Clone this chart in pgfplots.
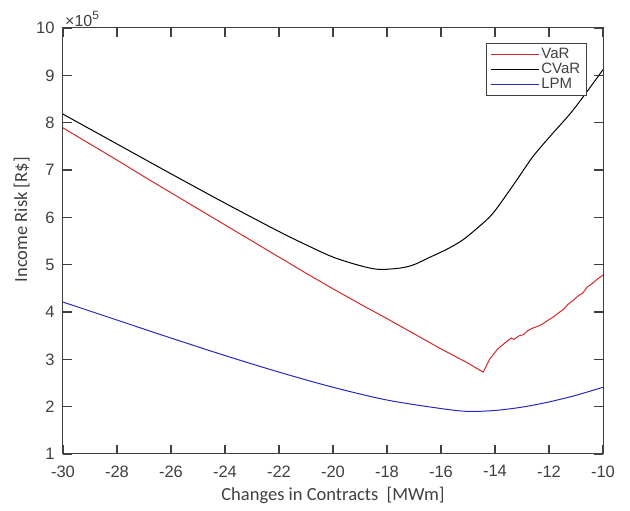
\documentclass[border=0pt]{standalone}
\usepackage{pgfplots}
\pgfplotsset{compat=1.18}
\usepackage{fontspec}
\setmainfont{Liberation Sans}
\newfontfamily\labfont{Carlito}
\definecolor{axgray}{RGB}{64,64,64}
\definecolor{varred}{RGB}{210,40,40}
\definecolor{lpmblue}{RGB}{40,40,190}
\begin{document}
\begin{tikzpicture}
\begin{axis}[
  scale only axis,
  width=540pt, height=426pt,
  xmin=-30, xmax=-10, ymin=1, ymax=10,
  xtick={-30,-28,...,-10},
  ytick={1,2,...,10},
  xtick align=inside, ytick align=inside,
  major tick length=9pt,
  every major tick/.append style={axgray, line width=1.3pt},
  axis line style={axgray, line width=1pt},
  ticklabel style={font=\fontsize{16.5}{18}\selectfont, text=axgray},
  /pgf/number format/assume math mode=true,
  xticklabel style={yshift=-8pt},
  yticklabel style={xshift=-5pt},
  xlabel={\labfont\fontsize{18.5}{20}\selectfont Changes in Contracts\ \ [MWm]},
  ylabel={\labfont\fontsize{18.5}{20}\selectfont Income Risk [R\$]},
  xlabel style={text=axgray, yshift=-3pt},
  ylabel style={text=axgray, at={(axis description cs:-0.055,0.55)}},
  legend style={at={(0.97,0.965)}, anchor=north east, draw=axgray, line width=1pt,
    font=\fontsize{15}{16}\selectfont, text=axgray, inner xsep=4pt, inner ysep=3pt,
    row sep=-1pt},
  legend cell align=left,
  legend image code/.code={\draw[#1, line width=1pt] (0pt,0pt) -- (48pt,0pt);},
]
\addplot[varred, line width=1pt] coordinates {
(-30,7.89) (-29,7.55) (-28,7.21) (-27,6.86) (-26,6.52) (-25,6.18) (-24,5.84)
(-23,5.50) (-22,5.16) (-21,4.82) (-20,4.49) (-19,4.17) (-18,3.86) (-17,3.54)
(-16,3.22) (-15,2.92) (-14.44,2.73)
(-14.2,3.00) (-13.9,3.22) (-13.56,3.38) (-13.4,3.45) (-13.3,3.42) (-13.1,3.50)
(-12.95,3.52) (-12.8,3.60) (-12.6,3.66) (-12.4,3.70) (-12.2,3.76) (-12.0,3.84)
(-11.85,3.89) (-11.6,4.00) (-11.45,4.06) (-11.3,4.16) (-11.1,4.25) (-10.9,4.35)
(-10.75,4.40) (-10.6,4.52) (-10.4,4.60) (-10.2,4.70) (-10,4.78)
};
\addlegendentry{VaR}
\addplot[black, line width=1pt, smooth] coordinates {
(-30,8.18) (-28,7.55) (-26,6.92) (-24,6.30) (-22,5.70) (-21,5.42) (-20,5.16)
(-19,4.98) (-18.3,4.90) (-17.5,4.93) (-17,5.00) (-16.4,5.16) (-15.8,5.32)
(-15.2,5.52) (-14.6,5.80) (-14.07,6.09) (-13.3,6.70) (-12.6,7.28) (-11.9,7.75)
(-11.2,8.20) (-10.6,8.65) (-10,9.12)
};
\addlegendentry{CVaR}
\addplot[lpmblue, line width=1pt, smooth] coordinates {
(-30,4.21) (-28,3.83) (-26,3.45) (-24,3.08) (-22,2.73) (-20,2.41) (-18,2.14)
(-16,1.96) (-15,1.90) (-14,1.92) (-13,1.99) (-12,2.10) (-11,2.24) (-10,2.41)
};
\addlegendentry{LPM}
\end{axis}
\node[anchor=south west, text=axgray, font=\fontsize{16}{17}\selectfont, inner sep=1pt, xshift=1pt]
  at (current axis.north west) {×10\raisebox{0.45em}{\fontsize{12}{13}\selectfont 5}};
\path ([shift={(-63pt,-57pt)}]current axis.south west) rectangle ([shift={(27pt,28pt)}]current axis.north east);
\end{tikzpicture}
\end{document}
